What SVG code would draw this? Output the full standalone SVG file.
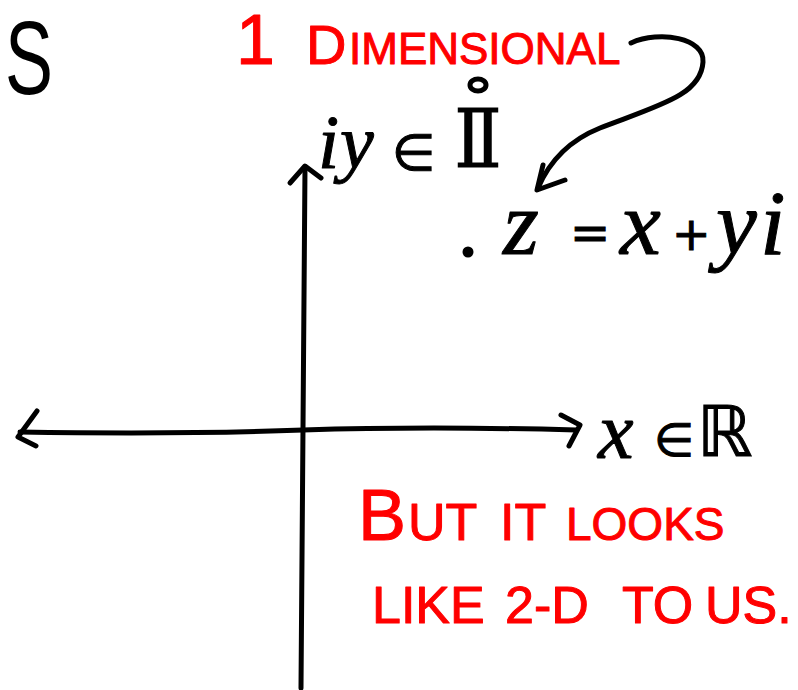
<svg xmlns="http://www.w3.org/2000/svg" width="798" height="690" viewBox="0 0 798 690">
<style>
.ink{fill:none;stroke:#000;stroke-width:5;stroke-linecap:round;stroke-linejoin:round}
.red{fill:#ff0000;stroke:#ff0000;stroke-width:1;stroke-linejoin:round;font-family:"Liberation Sans","DejaVu Sans",sans-serif}
.blk{fill:#000;font-family:"Liberation Sans","DejaVu Sans",sans-serif}
.math{fill:#000;stroke:#000;stroke-width:1;stroke-linejoin:round;font-family:"Liberation Serif","DejaVu Serif",serif;font-style:italic}
.sym{fill:#000;stroke:#000;stroke-width:1;font-family:"DejaVu Sans","Liberation Sans",sans-serif;font-style:normal}
</style>
<rect width="798" height="690" fill="#fff"/>
<g id="connectors">
  <path class="ink" d="M301,688 L305,167"/>
  <path class="ink" d="M290,183 L305,166 L321,178"/>
  <path class="ink" d="M20,432 C150,434 250,432 303,430 C400,427 500,428 576,430"/>
  <path class="ink" d="M37,411 L18,437 L36,446"/>
  <path class="ink" d="M561,415 L580,425 L569,446"/>
  <path class="ink" d="M631,43 C660,30 705,38 703,62 C701,95 660,105 600,128 C570,140 550,160 538,188"/>
  <path class="ink" d="M543,165 L537,190 L565,180"/>
</g>
<g id="title-s">
  <text class="blk" x="5" y="94" font-size="104" textLength="48" lengthAdjust="spacingAndGlyphs">S</text>
</g>
<g id="label-1d">
  <text class="red" x="236" y="64" font-size="70">1</text>
  <text class="red" x="306" y="64" font-size="56">D</text>
  <text class="red" x="349" y="64" font-size="44">IMENSIONAL</text>
</g>
<g id="label-imag">
  <text class="math" y="168" font-size="76"><tspan x="318">i</tspan><tspan x="340">y</tspan></text>
  <text class="sym" x="392" y="170" font-size="50">∈</text>
  <text class="sym" x="452" y="167" font-size="80" textLength="52" lengthAdjust="spacingAndGlyphs">𝕀</text>
  <ellipse cx="478" cy="85" rx="8" ry="6" class="ink" stroke-width="4"/>
</g>
<g id="point-z">
  <circle cx="468" cy="252" r="5.5" fill="#000"/>
  <text class="math" x="503" y="254" font-size="92">z</text>
  <text class="sym" x="570" y="249" font-size="48">=</text>
  <text class="math" x="620" y="254" font-size="92">x</text>
  <text class="sym" x="672" y="250" font-size="46">+</text>
  <text class="math" x="716" y="254" font-size="92">y</text>
  <text class="math" x="760" y="254" font-size="92">i</text>
</g>
<g id="label-real">
  <text class="math" x="598" y="458" font-size="80">x</text>
  <text class="sym" x="654" y="456" font-size="46">∈</text>
  <text class="sym" x="697" y="456" font-size="70">ℝ</text>
</g>
<g id="note-2d">
  <text class="red" x="358" y="540" font-size="72">B</text>
  <text class="red" x="408" y="540" font-size="52">UT</text>
  <text class="red" x="500" y="540" font-size="52">IT</text>
  <text class="red" x="566" y="540" font-size="46">LOOKS</text>
  <text class="red" x="372" y="623" font-size="52">LIKE</text>
  <text class="red" x="505" y="623" font-size="52">2-D</text>
  <text class="red" x="622" y="623" font-size="52">TO</text>
  <text class="red" x="705" y="623" font-size="52">US.</text>
</g>
</svg>
